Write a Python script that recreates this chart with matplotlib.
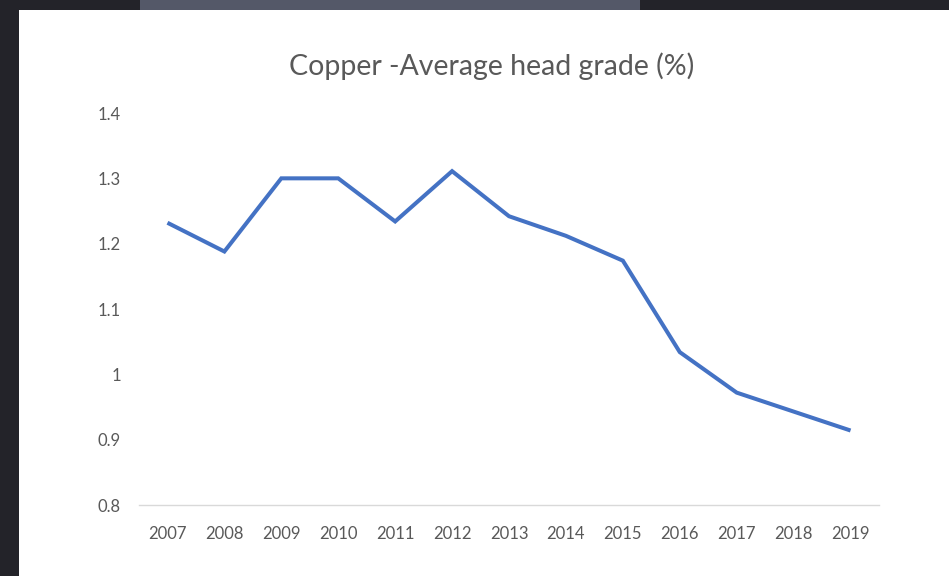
import matplotlib.pyplot as plt
from matplotlib.patches import Rectangle

# data
years = ['2007', '2008', '2009', '2010', '2011', '2012', '2013',
         '2014', '2015', '2016', '2017', '2018', '2019']
head_grade = [1.232, 1.188, 1.300, 1.300, 1.234, 1.311, 1.242,
              1.212, 1.174, 1.034, 0.972, 0.943, 0.914]
y_ticks = [0.8, 0.9, 1.0, 1.1, 1.2, 1.3, 1.4]
y_labels = ['0.8', '0.9', '1', '1.1', '1.2', '1.3', '1.4']

W, H = 949, 576
fig = plt.figure(figsize=(W / 100, H / 100), dpi=100)
fig.patch.set_facecolor('#232329')

# white chart panel (screenshot frame)
fig.patches.append(Rectangle((19 / W, 0), 1 - 19 / W, 1 - 10 / H,
                             transform=fig.transFigure, facecolor='white',
                             edgecolor='none', zorder=-2))
fig.patches.append(Rectangle((140 / W, 1 - 10 / H), 500 / W, 10 / H,
                             transform=fig.transFigure, facecolor='#545868',
                             edgecolor='none', zorder=-2))

ax = fig.add_axes([139 / W, 1 - 505 / H, 740 / W, 392 / H])
ax.set_facecolor('none')
ax.set_zorder(2)

x = list(range(len(years)))
ax.plot(x, head_grade, color='#4472C4', linewidth=2.9,
        solid_joinstyle='miter', solid_capstyle='butt')

ax.set_xlim(-0.5, len(years) - 0.5)
ax.set_ylim(0.8, 1.4)
ax.set_xticks(x)
ax.set_xticklabels(years)
ax.set_yticks(y_ticks)
ax.set_yticklabels(y_labels)

for side in ['top', 'right', 'left']:
    ax.spines[side].set_visible(False)
ax.spines['bottom'].set_color('#d9d9d9')
ax.spines['bottom'].set_linewidth(1)
ax.tick_params(length=0, labelsize=12, labelcolor='#595959')
ax.tick_params(axis='x', pad=15)
ax.tick_params(axis='y', pad=13)
for lbl in ax.get_xticklabels() + ax.get_yticklabels():
    lbl.set_family('Lato')

fig.text(492 / W, 1 - 66 / H, 'Copper -Average head grade (%)',
         ha='center', va='center', fontsize=20.5, color='#595959',
         family='Lato', zorder=3)

fig.savefig('out.png', dpi=100, facecolor=fig.get_facecolor())
